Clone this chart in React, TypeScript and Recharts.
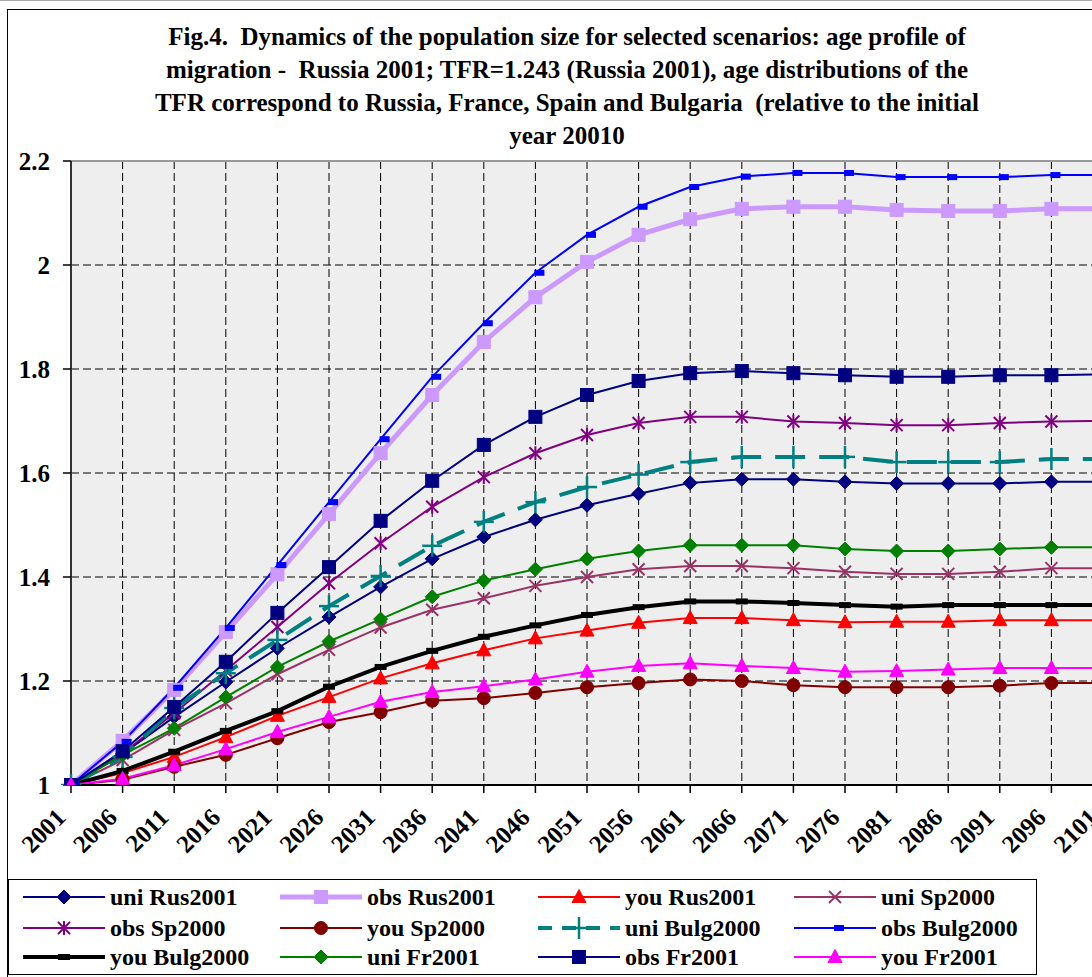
import React from 'react';
import { LineChart, Line, XAxis, YAxis, CartesianGrid, ReferenceLine } from 'recharts';

const years = ['2001', '2006', '2011', '2016', '2021', '2026', '2031', '2036', '2041', '2046', '2051', '2056', '2061', '2066', '2071', '2076', '2081', '2086', '2091', '2096', '2101'];

const uniRus2001 = [1, 1.06, 1.131, 1.198, 1.263, 1.323, 1.381, 1.435, 1.477, 1.51, 1.538, 1.56, 1.581, 1.588, 1.588, 1.583, 1.58, 1.58, 1.58, 1.583, 1.583];
const obsRus2001 = [1, 1.085, 1.183, 1.294, 1.405, 1.521, 1.638, 1.75, 1.852, 1.938, 2.006, 2.058, 2.088, 2.108, 2.112, 2.112, 2.106, 2.104, 2.104, 2.108, 2.108];
const youRus2001 = [1, 1.023, 1.054, 1.092, 1.133, 1.169, 1.205, 1.234, 1.259, 1.282, 1.297, 1.312, 1.321, 1.321, 1.317, 1.313, 1.314, 1.314, 1.317, 1.317, 1.317];
const uniSp2000 = [1, 1.048, 1.106, 1.157, 1.213, 1.26, 1.303, 1.337, 1.359, 1.383, 1.4, 1.415, 1.421, 1.421, 1.417, 1.41, 1.406, 1.406, 1.41, 1.417, 1.417];
const obsSp2000 = [1, 1.061, 1.138, 1.22, 1.304, 1.388, 1.465, 1.535, 1.592, 1.638, 1.673, 1.696, 1.708, 1.708, 1.699, 1.696, 1.692, 1.692, 1.696, 1.699, 1.7];
const youSp2000 = [1, 1.01, 1.035, 1.058, 1.09, 1.121, 1.14, 1.162, 1.167, 1.177, 1.188, 1.196, 1.203, 1.2, 1.192, 1.188, 1.188, 1.188, 1.191, 1.196, 1.196];
const uniBulg2000 = [1, 1.054, 1.148, 1.215, 1.279, 1.344, 1.402, 1.46, 1.506, 1.544, 1.573, 1.597, 1.621, 1.631, 1.631, 1.631, 1.621, 1.621, 1.621, 1.627, 1.627];
const obsBulg2000 = [1, 1.083, 1.187, 1.302, 1.423, 1.544, 1.665, 1.785, 1.888, 1.985, 2.058, 2.112, 2.15, 2.17, 2.177, 2.177, 2.169, 2.169, 2.169, 2.173, 2.173];
const youBulg2000 = [1, 1.027, 1.064, 1.104, 1.142, 1.189, 1.227, 1.258, 1.285, 1.307, 1.327, 1.342, 1.353, 1.353, 1.35, 1.346, 1.343, 1.346, 1.346, 1.346, 1.346];
const uniFr2001 = [1, 1.058, 1.109, 1.169, 1.227, 1.276, 1.319, 1.362, 1.393, 1.415, 1.435, 1.45, 1.461, 1.461, 1.461, 1.454, 1.45, 1.45, 1.454, 1.457, 1.457];
const obsFr2001 = [1, 1.065, 1.15, 1.237, 1.331, 1.419, 1.508, 1.585, 1.654, 1.708, 1.75, 1.777, 1.792, 1.796, 1.792, 1.788, 1.785, 1.785, 1.788, 1.788, 1.79];
const youFr2001 = [1, 1.012, 1.038, 1.069, 1.102, 1.131, 1.16, 1.179, 1.19, 1.203, 1.218, 1.229, 1.234, 1.229, 1.225, 1.218, 1.219, 1.222, 1.225, 1.225, 1.225];

const yTicks = [1, 1.2, 1.4, 1.6, 1.8, 2, 2.2];
const yGridValues = [1.2, 1.4, 1.6, 1.8, 2];

const titleLines = [
  'Fig.4.  Dynamics of the population size for selected scenarios: age profile of',
  'migration -  Russia 2001; TFR=1.243 (Russia 2001), age distributions of the',
  'TFR correspond to Russia, France, Spain and Bulgaria  (relative to the initial',
  'year 20010',
];

type Shape = 'diamond' | 'square' | 'triangle' | 'x' | 'asterisk' | 'circle' | 'plus' | 'dashR' | 'dash';

interface SeriesDef {
  key: string;
  name: string;
  values: number[];
  color: string;
  width: number;
  shape: Shape;
  dash?: string;
}

const series: SeriesDef[] = [
  { key: 'uniRus2001', name: 'uni Rus2001', values: uniRus2001, color: '#000080', width: 2, shape: 'diamond' },
  { key: 'obsRus2001', name: 'obs Rus2001', values: obsRus2001, color: '#CC99FF', width: 5, shape: 'square' },
  { key: 'youRus2001', name: 'you Rus2001', values: youRus2001, color: '#FF0000', width: 2, shape: 'triangle' },
  { key: 'uniSp2000', name: 'uni Sp2000', values: uniSp2000, color: '#993366', width: 2, shape: 'x' },
  { key: 'obsSp2000', name: 'obs Sp2000', values: obsSp2000, color: '#800080', width: 2, shape: 'asterisk' },
  { key: 'youSp2000', name: 'you Sp2000', values: youSp2000, color: '#800000', width: 2, shape: 'circle' },
  { key: 'uniBulg2000', name: 'uni Bulg2000', values: uniBulg2000, color: '#008080', width: 4, shape: 'plus', dash: '30 14' },
  { key: 'obsBulg2000', name: 'obs Bulg2000', values: obsBulg2000, color: '#0000FF', width: 2, shape: 'dashR' },
  { key: 'youBulg2000', name: 'you Bulg2000', values: youBulg2000, color: '#000000', width: 4, shape: 'dash' },
  { key: 'uniFr2001', name: 'uni Fr2001', values: uniFr2001, color: '#008000', width: 2, shape: 'diamond' },
  { key: 'obsFr2001', name: 'obs Fr2001', values: obsFr2001, color: '#000080', width: 2, shape: 'square' },
  { key: 'youFr2001', name: 'you Fr2001', values: youFr2001, color: '#FF00FF', width: 2, shape: 'triangle' },
];

const data = years.map((year, i) => {
  const row: Record<string, any> = { year };
  series.forEach((s) => {
    row[s.key] = s.values[i];
  });
  return row;
});

const FONT = '"Liberation Serif", "Times New Roman", serif';

function Marker({ shape, color, cx, cy }: { shape: Shape; color: string; cx: number; cy: number }) {
  if (cx == null || cy == null || isNaN(cx) || isNaN(cy)) return null;
  switch (shape) {
    case 'diamond':
      return <polygon points={`${cx},${cy - 7} ${cx + 7},${cy} ${cx},${cy + 7} ${cx - 7},${cy}`} fill={color} stroke={color} strokeWidth={1} />;
    case 'square':
      return <rect x={cx - 6.5} y={cy - 6.5} width={13} height={13} fill={color} stroke={color} strokeWidth={1} />;
    case 'triangle':
      return <polygon points={`${cx},${cy - 7.5} ${cx + 7},${cy + 5.5} ${cx - 7},${cy + 5.5}`} fill={color} stroke={color} strokeWidth={1} />;
    case 'circle':
      return <circle cx={cx} cy={cy} r={6.5} fill={color} stroke={color} strokeWidth={1} />;
    case 'x':
      return (
        <g stroke={color} strokeWidth={2}>
          <line x1={cx - 6} y1={cy - 6} x2={cx + 6} y2={cy + 6} />
          <line x1={cx - 6} y1={cy + 6} x2={cx + 6} y2={cy - 6} />
        </g>
      );
    case 'asterisk':
      return (
        <g stroke={color} strokeWidth={2}>
          <line x1={cx - 6} y1={cy - 6} x2={cx + 6} y2={cy + 6} />
          <line x1={cx - 6} y1={cy + 6} x2={cx + 6} y2={cy - 6} />
          <line x1={cx} y1={cy - 7} x2={cx} y2={cy + 7} />
        </g>
      );
    case 'plus':
      return (
        <g stroke={color} strokeWidth={2.5}>
          <line x1={cx - 10} y1={cy} x2={cx + 10} y2={cy} />
          <line x1={cx} y1={cy - 11} x2={cx} y2={cy + 11} />
        </g>
      );
    case 'dashR':
      return <rect x={cx - 1} y={cy - 3} width={10} height={6} fill={color} />;
    case 'dash':
      return <rect x={cx - 6} y={cy - 3} width={12} height={6} fill={color} />;
  }
  return null;
}

const makeDot = (s: SeriesDef) => (props: any) => (
  <g key={`${s.key}-dot-${props.index}`}>
    <Marker shape={s.shape} color={s.color} cx={props.cx} cy={props.cy} />
  </g>
);

const XTick = (props: any) => {
  const { x, y, payload } = props;
  const tx = x - 4;
  const ty = y + 24;
  return (
    <text
      x={tx}
      y={ty}
      transform={`rotate(-45 ${tx} ${ty})`}
      textAnchor="end"
      fontFamily={FONT}
      fontWeight="bold"
      fontSize={25}
      fill="#000"
    >
      {payload.value}
    </text>
  );
};

const YTick = (props: any) => {
  const { x, y, payload } = props;
  return (
    <text x={x - 11} y={y} dy="0.35em" textAnchor="end" fontFamily={FONT} fontWeight="bold" fontSize={25} fill="#000">
      {String(payload.value)}
    </text>
  );
};

const legendCols = [15, 272, 530, 786];
const legendRows = [18, 49, 78];

function LegendBox() {
  return (
    <div
      style={{
        position: 'absolute',
        left: 8,
        top: 879,
        width: 1029,
        height: 96,
        border: '1px solid #000',
        background: '#fff',
        boxSizing: 'border-box',
      }}
    >
      <svg width={1029} height={96} style={{ position: 'absolute', left: -1, top: -1 }}>
        {series.map((s, i) => {
          const x0 = legendCols[i % 4];
          const y0 = legendRows[Math.floor(i / 4)];
          const len = 82;
          return (
            <g key={s.key}>
              <line
                x1={x0}
                y1={y0}
                x2={x0 + len}
                y2={y0}
                stroke={s.color}
                strokeWidth={s.width}
                strokeDasharray={s.dash ? '14 10' : undefined}
              />
              <Marker shape={s.shape} color={s.color} cx={x0 + len / 2} cy={y0} />
              <text x={x0 + len + 5} y={y0} dy="0.35em" fontFamily={FONT} fontWeight="bold" fontSize={24} fill="#000">
                {s.name}
              </text>
            </g>
          );
        })}
      </svg>
    </div>
  );
}

export default function App() {
  return (
    <div
      style={{
        position: 'fixed',
        left: 0,
        top: 0,
        width: 1092,
        height: 977,
        overflow: 'hidden',
        background: '#fff',
      }}
    >
      <div style={{ position: 'absolute', left: 0, top: 0, width: 1092, height: 1, background: '#aaa' }} />
      <div
        style={{
          position: 'absolute',
          left: 7,
          top: 9,
          width: 1200,
          height: 1100,
          borderLeft: '1px solid #000',
          borderTop: '1px solid #000',
        }}
      />
      <div
        style={{
          position: 'absolute',
          left: 67,
          top: 20,
          width: 1000,
          textAlign: 'center',
          fontFamily: FONT,
          fontWeight: 'bold',
          fontSize: 25,
          lineHeight: '33px',
          color: '#000',
          whiteSpace: 'pre',
        }}
      >
        {titleLines.map((l, i) => (
          <div key={i}>{l}</div>
        ))}
      </div>
      <div style={{ position: 'absolute', left: 0, top: 0 }}>
        <LineChart width={1110} height={977} data={data} margin={{ top: 161, right: 7, bottom: 132, left: 0 }}>
          <CartesianGrid fill="#eeeeee" horizontal={false} vertical={true} stroke="#000" strokeDasharray="8 4" />
          {yGridValues.map((v) => (
            <ReferenceLine key={v} y={v} stroke="#000" strokeDasharray="8 4" strokeWidth={1} ifOverflow="extendDomain" />
          ))}
          <ReferenceLine y={2.2} stroke="#999" strokeWidth={2} />
          <XAxis
            dataKey="year"
            interval={0}
            height={60}
            tick={<XTick />}
            tickSize={8}
            tickLine={{ stroke: '#000', strokeWidth: 1.5 }}
            axisLine={{ stroke: '#000', strokeWidth: 2 }}
          />
          <YAxis
            type="number"
            domain={[1, 2.2]}
            ticks={yTicks}
            width={71}
            tick={<YTick />}
            tickSize={8}
            tickLine={{ stroke: '#000', strokeWidth: 1.5 }}
            axisLine={{ stroke: '#333', strokeWidth: 2 }}
            allowDataOverflow
          />
          {series.map((s) => (
            <Line
              key={s.key}
              type="linear"
              dataKey={s.key}
              name={s.name}
              stroke={s.color}
              strokeWidth={s.width}
              strokeDasharray={s.dash}
              dot={makeDot(s)}
              activeDot={false}
              isAnimationActive={false}
            />
          ))}
        </LineChart>
      </div>
      <LegendBox />
    </div>
  );
}
